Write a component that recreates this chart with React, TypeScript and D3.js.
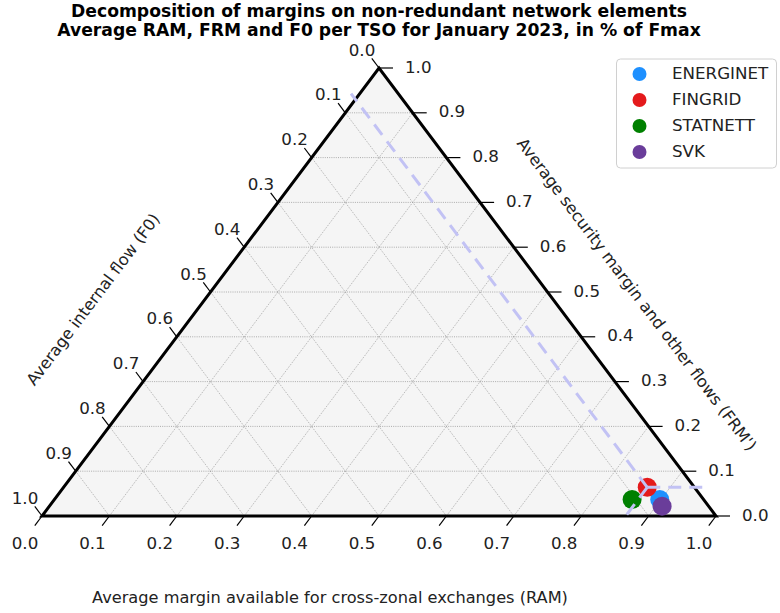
import React from "react";
import * as d3 from "d3";

// TSO averages, January 2023 (share of Fmax)
const tsoNames = ["ENERGINET", "FINGRID", "STATNETT", "SVK"];
const ramValues = [0.898, 0.866, 0.857, 0.909];
const frmValues = [0.037, 0.064, 0.037, 0.022];
const f0Values = [0.065, 0.070, 0.106, 0.069];
const tsoColors = ["#1e90ff", "#e41a1c", "#008000", "#6a3d9a"];

// reference lines are drawn through FINGRID
const refIndex = 1;

const tickValues = [0, 0.1, 0.2, 0.3, 0.4, 0.5, 0.6, 0.7, 0.8, 0.9, 1.0];
const gridValues = [0.1, 0.2, 0.3, 0.4, 0.5, 0.6, 0.7, 0.8, 0.9];

const W = 780;
const H = 613;
const FONT = "DejaVu Sans, sans-serif";
const FS = 16.7;
const LABEL_FS = 16.2;

// triangle corners
const left = { x: 42, y: 516 };
const right = { x: 716, y: 516 };
const top = { x: 379, y: 68 };

// x from (ram + frm/2), y from frm
const xScale = d3.scaleLinear().domain([0, 1]).range([left.x, right.x]);
const yScale = d3.scaleLinear().domain([0, 1]).range([left.y, top.y]);

function project(ram: number, frm: number) {
  return [xScale(ram + frm / 2), yScale(frm)];
}

const edgeLen = Math.hypot(top.x - left.x, top.y - left.y);
const leftDir = [(left.x - top.x) / edgeLen, (left.y - top.y) / edgeLen]; // down-left
const rightDir = [(top.x - right.x) / edgeLen, (top.y - right.y) / edgeLen]; // up-left
const edgeAngle = (Math.atan2(left.y - top.y, top.x - left.x) * 180) / Math.PI; // ~53°

export default function App() {
  const line = d3.line();
  const gridPaths: string[] = [];
  gridValues.forEach((v) => {
    gridPaths.push(line([project(0, v), project(1 - v, v)]) as string);
    gridPaths.push(line([project(v, 0), project(v, 1 - v)]) as string);
    gridPaths.push(line([project(0, 1 - v), project(1 - v, 0)]) as string);
  });

  const triangle = line([project(0, 0), project(1, 0), project(0, 1), project(0, 0)]) + "Z";

  const ra = ramValues[refIndex];
  const rb = frmValues[refIndex];
  const rc = f0Values[refIndex];
  const p0 = project(ra, rb);
  // constant F0 up to the left axis, constant FRM to the right axis, constant RAM to the bottom axis
  const refLines = [
    line([p0, project(-0.013, 1 - rc + 0.013)]),
    line([p0, project(1 - rb + 0.018, rb)]),
    line([p0, project(ra, -0.003)]),
  ];

  return (
    <svg width={W} height={H} style={{ display: "block", position: "absolute", left: 0, top: 0 }}>
      <rect width={W} height={H} fill="#ffffff" />
      <text x={379} y={17} textAnchor="middle" fontFamily={FONT} fontSize={17.2} fontWeight="bold">
        Decomposition of margins on non-redundant network elements
      </text>
      <text x={379} y={36} textAnchor="middle" fontFamily={FONT} fontSize={17.2} fontWeight="bold">
        Average RAM, FRM and F0 per TSO for January 2023, in % of Fmax
      </text>

      <path d={triangle} fill="#f5f5f5" stroke="none" />
      {gridPaths.map((d, i) => (
        <path key={i} d={d} stroke="#999" strokeWidth={0.8} strokeDasharray="1,1.2" fill="none" />
      ))}

      {/* bottom axis: RAM */}
      {tickValues.map((v) => {
        const [x, y] = project(v, 0);
        return (
          <g key={"b" + v}>
            <line x1={x} y1={y} x2={x + leftDir[0] * 12} y2={y + leftDir[1] * 12} stroke="#000" strokeWidth={1.2} />
            <text x={x - 17} y={y + 28} textAnchor="middle" dominantBaseline="middle" fontFamily={FONT} fontSize={FS} fill="#222">
              {v.toFixed(1)}
            </text>
          </g>
        );
      })}

      {/* right axis: FRM' */}
      {tickValues.map((v) => {
        const [x, y] = project(1 - v, v);
        return (
          <g key={"r" + v}>
            <line x1={x} y1={y} x2={x + 14} y2={y} stroke="#000" strokeWidth={1.2} />
            <text x={x + 26} y={y} dominantBaseline="middle" fontFamily={FONT} fontSize={FS} fill="#222">
              {v.toFixed(1)}
            </text>
          </g>
        );
      })}

      {/* left axis: F0 */}
      {tickValues.map((v) => {
        const [x, y] = project(0, 1 - v);
        return (
          <g key={"l" + v}>
            <line x1={x} y1={y} x2={x + rightDir[0] * 12} y2={y + rightDir[1] * 12} stroke="#000" strokeWidth={1.2} />
            <text x={x - 17} y={y - 17} textAnchor="middle" dominantBaseline="middle" fontFamily={FONT} fontSize={FS} fill="#222">
              {v.toFixed(1)}
            </text>
          </g>
        );
      })}

      <path d={triangle} fill="none" stroke="#000" strokeWidth={3} strokeLinejoin="miter" />

      {tsoNames.map((name, i) => {
        const [x, y] = project(ramValues[i], frmValues[i]);
        return <circle key={name} cx={x} cy={y} r={9.5} fill={tsoColors[i]} />;
      })}

      {refLines.map((d, i) => (
        <path key={"ref" + i} d={d as string} stroke="#c2c2f4" strokeWidth={3} strokeDasharray="13,8" fill="none" />
      ))}

      <text
        transform={`translate(94,300) rotate(${-edgeAngle})`}
        textAnchor="middle"
        dominantBaseline="middle"
        fontFamily={FONT}
        fontSize={LABEL_FS}
        fill="#222"
      >
        Average internal flow (F0)
      </text>
      <text
        transform={`translate(636,295) rotate(${edgeAngle})`}
        textAnchor="middle"
        dominantBaseline="middle"
        fontFamily={FONT}
        fontSize={LABEL_FS}
        fill="#222"
      >
        Average security margin and other flows (FRM')
      </text>
      <text x={330} y={603} textAnchor="middle" fontFamily={FONT} fontSize={LABEL_FS} fill="#222">
        Average margin available for cross-zonal exchanges (RAM)
      </text>

      {/* legend */}
      <g>
        <rect x={616.5} y={59} width={160} height={109} rx={4} fill="#fff" stroke="#d0d0d0" strokeWidth={1} />
        {tsoNames.map((name, i) => (
          <g key={"lg" + name} transform={`translate(0,${74 + i * 26})`}>
            <circle cx={639.5} cy={0} r={7} fill={tsoColors[i]} />
            <text x={672} y={0} dominantBaseline="middle" fontFamily={FONT} fontSize={FS} fill="#222">
              {name}
            </text>
          </g>
        ))}
      </g>
    </svg>
  );
}
